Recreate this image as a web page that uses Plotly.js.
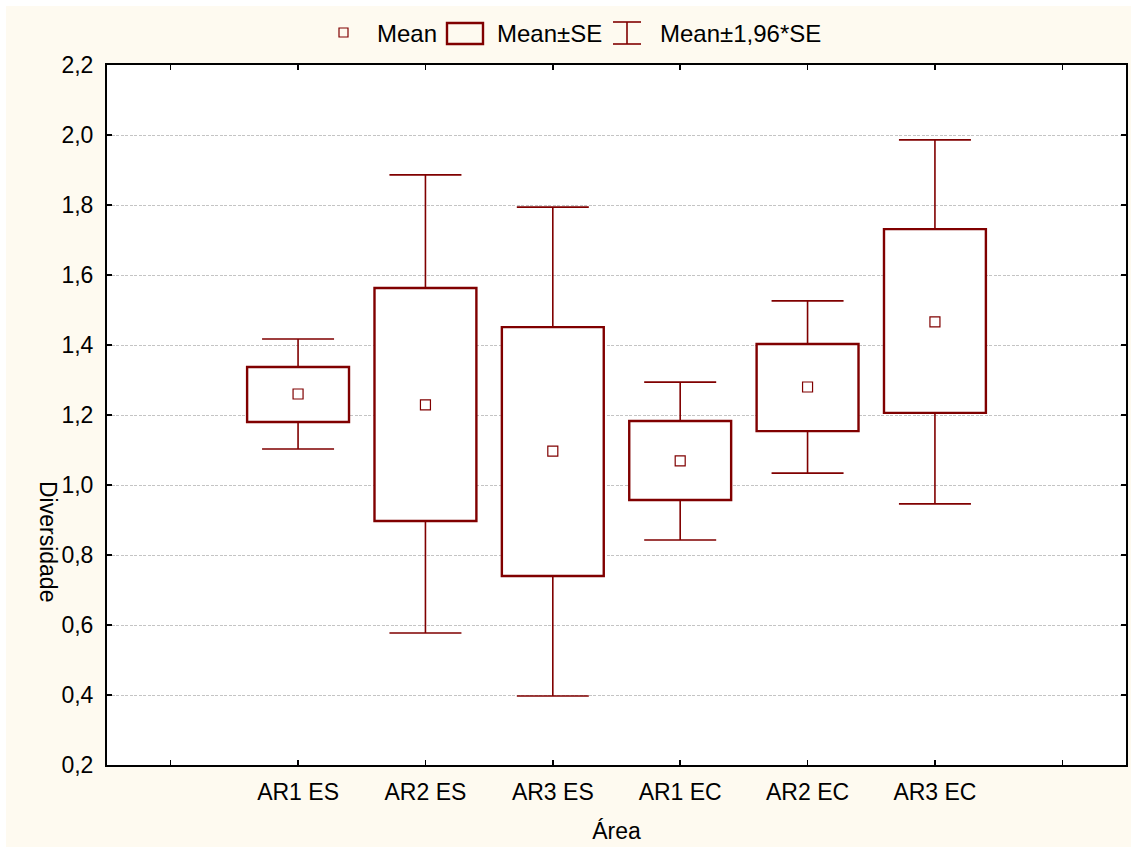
<!DOCTYPE html>
<html>
<head>
<meta charset="utf-8">
<script src="https://cdn.plot.ly/plotly-3.0.1.min.js"></script>
<style>
  html, body { margin: 0; padding: 0; background: #ffffff; width: 1136px; height: 848px; overflow: hidden; }
  #chart { position: absolute; left: 6px; top: 6px; width: 1125px; height: 841px; }
</style>
</head>
<body>
<div id="chart"></div>
<script>
// ---- data ----
const categories = ['AR1 ES', 'AR2 ES', 'AR3 ES', 'AR1 EC', 'AR2 EC', 'AR3 EC'];
const means      = [1.260, 1.229, 1.097, 1.069, 1.280, 1.466];
const seLow      = [1.180, 0.897, 0.740, 0.957, 1.154, 1.206];   // Mean-SE
const seHigh     = [1.337, 1.563, 1.451, 1.183, 1.403, 1.731];   // Mean+SE
const ciLow      = [1.103, 0.577, 0.397, 0.843, 1.034, 0.946];   // Mean-1,96*SE
const ciHigh     = [1.417, 1.886, 1.794, 1.294, 1.526, 1.986];   // Mean+1,96*SE
const yTicks     = [0.2, 0.4, 0.6, 0.8, 1.0, 1.2, 1.4, 1.6, 1.8, 2.0, 2.2];

const RED = '#800000';
const FONT = 'Liberation Sans, Arial, sans-serif';
const xs = categories.map((c, i) => i);

const boxTrace = {
  type: 'bar', x: xs, base: seLow,
  y: seHigh.map((v, i) => v - seLow[i]),
  width: 0.8,
  marker: { color: '#ffffff', line: { color: RED, width: 2.4 } },
  showlegend: false, hoverinfo: 'skip'
};
const upperWhisker = {
  type: 'scatter', mode: 'markers', x: xs, y: seHigh,
  marker: { size: 1, color: 'rgba(0,0,0,0)' },
  error_y: { type: 'data', symmetric: false,
    array: ciHigh.map((v, i) => v - seHigh[i]),
    arrayminus: seHigh.map(() => 0),
    width: 36, thickness: 1.6, color: RED },
  showlegend: false, hoverinfo: 'skip'
};
const lowerWhisker = {
  type: 'scatter', mode: 'markers', x: xs, y: seLow,
  marker: { size: 1, color: 'rgba(0,0,0,0)' },
  error_y: { type: 'data', symmetric: false,
    array: seLow.map(() => 0),
    arrayminus: seLow.map((v, i) => v - ciLow[i]),
    width: 36, thickness: 1.6, color: RED },
  showlegend: false, hoverinfo: 'skip'
};
const meanTrace = {
  type: 'scatter', mode: 'markers', x: xs, y: means,
  marker: { symbol: 'square-open', size: 10, color: RED, line: { width: 1.2, color: RED } },
  showlegend: false
};

// tick positions: one empty tick on each side of the categories
const tickVals = [-1].concat(xs, [categories.length]);
const tickText = [''].concat(categories, ['']);

// ---- manual legend (pixel offsets from plot's top-left corner) ----
function pxShape(x0, x1, y0, y1, extra) {
  return Object.assign({
    xref: 'paper', yref: 'paper', xanchor: 0, yanchor: 1,
    xsizemode: 'pixel', ysizemode: 'pixel',
    x0: x0, x1: x1, y0: y0, y1: y1
  }, extra);
}
const legShapes = [
  pxShape(232, 241, 28, 37, { type: 'rect', line: { color: RED, width: 1.2 }, fillcolor: 'rgba(0,0,0,0)' }),
  pxShape(340, 376, 21, 42, { type: 'rect', line: { color: RED, width: 2.4 }, fillcolor: 'rgba(0,0,0,0)' }),
  pxShape(506, 534, 43, 43, { type: 'line', line: { color: RED, width: 1.6 } }),
  pxShape(506, 534, 21, 21, { type: 'line', line: { color: RED, width: 1.6 } }),
  pxShape(520, 520, 21, 43, { type: 'line', line: { color: RED, width: 1.6 } })
];
const plotW = 1019;
function legText(txt, leftPx) {
  return { text: txt, xref: 'paper', yref: 'paper', x: (leftPx - 107) / plotW, y: 1,
    xanchor: 'left', yanchor: 'middle', yshift: 32, showarrow: false,
    font: { family: FONT, size: 24, color: '#000000' } };
}

const layout = {
  width: 1125, height: 841,
  paper_bgcolor: '#fefaf0', plot_bgcolor: '#ffffff',
  separators: ',.',
  margin: { l: 101, r: 5, t: 59, b: 82 },
  showlegend: false,
  barmode: 'overlay',
  font: { family: FONT, size: 23, color: '#000000' },
  xaxis: {
    range: [-1.5, categories.length + 0.5],
    tickmode: 'array', tickvals: tickVals, ticktext: tickText,
    ticks: 'inside', ticklen: 5, tickwidth: 1.5, tickcolor: '#000',
    showline: true, linecolor: '#000', linewidth: 2, mirror: 'ticks',
    showgrid: false, zeroline: false,
    ticklabelstandoff: 5,
    tickfont: { family: FONT, size: 23 },
    title: { text: 'Área', font: { family: FONT, size: 23 }, standoff: 19 }
  },
  yaxis: {
    range: [0.2, 2.2],
    tickmode: 'array', tickvals: yTicks, tickformat: '.1f',
    ticks: 'inside', ticklen: 5, tickwidth: 1.5, tickcolor: '#000',
    showline: true, linecolor: '#000', linewidth: 2, mirror: 'ticks',
    showgrid: true, gridcolor: '#c4c4c4', gridwidth: 1, griddash: '3px,1.5px',
    zeroline: false,
    ticklabelstandoff: 7,
    tickfont: { family: FONT, size: 23 }
  },
  shapes: legShapes,
  annotations: [
    legText('Mean', 375),
    legText('Mean±SE', 495),
    legText('Mean±1,96*SE', 658),
    { text: 'Diversidade', textangle: 90, xref: 'paper', yref: 'paper',
      x: 0, y: 0, xanchor: 'center', yanchor: 'middle',
      xshift: -59, yshift: 224, showarrow: false,
      font: { family: FONT, size: 23, color: '#000' } }
  ]
};

Plotly.newPlot('chart', [boxTrace, upperWhisker, lowerWhisker, meanTrace], layout,
  { staticPlot: true, displayModeBar: false });
</script>
</body>
</html>
